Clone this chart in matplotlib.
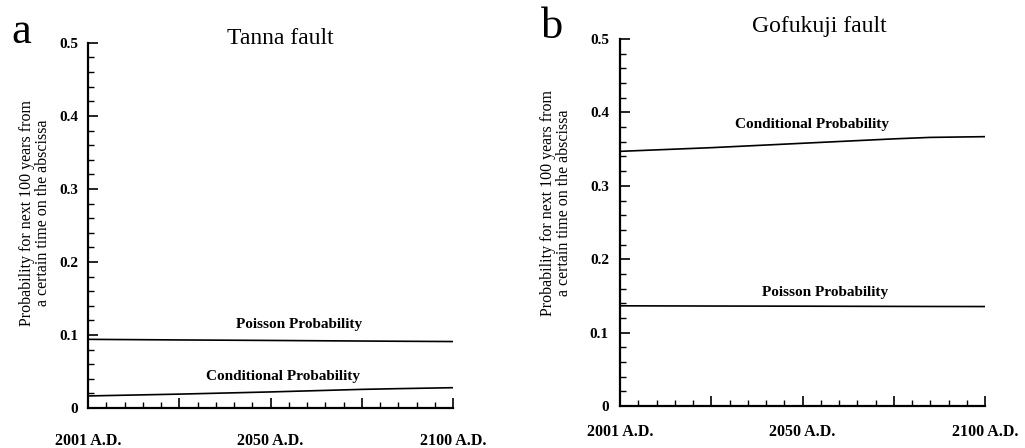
import numpy as np
import matplotlib
matplotlib.use("Agg")
import matplotlib.pyplot as plt
from matplotlib.ticker import MultipleLocator

# years after 2001 A.D. (0 .. 100)
years = [0, 25, 50, 75, 85, 100]

# panel a : Tanna fault
tanna_poisson = [0.094, 0.0932, 0.0925, 0.0917, 0.0914, 0.091]
tanna_cond = [0.0165, 0.019, 0.022, 0.0255, 0.0265, 0.0278]

# panel b : Gofukuji fault
gofu_poisson = [0.1365, 0.1362, 0.136, 0.1357, 0.1356, 0.1355]
gofu_cond = [0.347, 0.352, 0.358, 0.364, 0.366, 0.367]

xtick_pos = [0, 25, 50, 75, 100]
xtick_lab = ["2001 A.D.", "", "2050 A.D.", "", "2100 A.D."]
ylab = "Probability for next 100 years from\na certain time on the abscissa"

plt.rcParams['font.family'] = ['Liberation Serif', 'DejaVu Serif']

fig = plt.figure(figsize=(10.25, 4.48), dpi=100)
ax_a = fig.add_axes([0.0859, 0.0893, 0.3561, 0.815])
ax_b = fig.add_axes([0.6049, 0.0938, 0.3561, 0.819])


def style(ax, xpad, ypad):
    ax.set_xlim(0, 100)
    ax.set_ylim(0, 0.5)
    for s in ["top", "right"]:
        ax.spines[s].set_visible(False)
    for s in ["left", "bottom"]:
        ax.spines[s].set_linewidth(1.6)
    ax.set_xticks(xtick_pos)
    ax.set_xticklabels(xtick_lab, fontweight="bold")
    ax.xaxis.set_minor_locator(MultipleLocator(5))
    ax.set_yticks([0, 0.1, 0.2, 0.3, 0.4, 0.5])
    ax.set_yticklabels(["0", "0.1", "0.2", "0.3", "0.4", "0.5"], fontweight="bold")
    ax.yaxis.set_minor_locator(MultipleLocator(0.02))
    ax.tick_params(axis="both", which="major", direction="in", length=7, width=1.2)
    ax.tick_params(axis="both", which="minor", direction="in", length=4, width=1.0)
    ax.tick_params(axis="x", which="major", pad=xpad, labelsize=11.5)
    ax.tick_params(axis="y", which="major", pad=ypad, labelsize=11)


style(ax_a, 18, 7)
style(ax_b, 13, 8)

# panel a
ax_a.plot(years, tanna_poisson, color="black", lw=1.2)
ax_a.plot(years, tanna_cond, color="black", lw=1.2)
ax_a.text(57.8, 0.114, "Poisson Probability", ha="center", va="center", fontsize=11, fontweight="bold")
ax_a.text(53.4, 0.0425, "Conditional Probability", ha="center", va="center", fontsize=11, fontweight="bold")
ax_a.text(0.526, 1.011, "Tanna fault", transform=ax_a.transAxes, ha="center", va="center", fontsize=17)
ax_a.set_ylabel(ylab, fontsize=11.5, linespacing=1.05)
ax_a.yaxis.set_label_coords(-0.145, 0.534)
ax_a.yaxis.label.set_verticalalignment("center")

# panel b
ax_b.plot(years, gofu_poisson, color="black", lw=1.2)
ax_b.plot(years, gofu_cond, color="black", lw=1.2)
ax_b.text(56.2, 0.155, "Poisson Probability", ha="center", va="center", fontsize=11, fontweight="bold")
ax_b.text(52.6, 0.383, "Conditional Probability", ha="center", va="center", fontsize=11, fontweight="bold")
ax_b.text(0.545, 1.035, "Gofukuji fault", transform=ax_b.transAxes, ha="center", va="center", fontsize=17)
ax_b.set_ylabel(ylab, fontsize=11.5, linespacing=1.05)
ax_b.yaxis.set_label_coords(-0.175, 0.553)
ax_b.yaxis.label.set_verticalalignment("center")

# panel letters
fig.text(21 / 1025, 1 - 32 / 448, "a", fontsize=32, ha="center", va="center")
fig.text(552 / 1025, 1 - 27 / 448, "b", fontsize=32, ha="center", va="center")

fig.savefig("out.png", dpi=100)
